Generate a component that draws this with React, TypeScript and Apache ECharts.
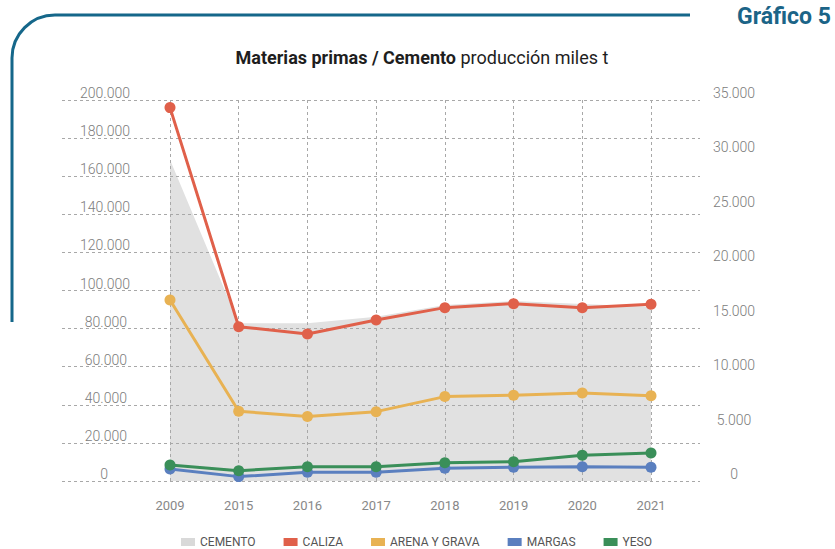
import React, { useEffect, useRef } from "react";
import * as echarts from "echarts";

const years = ["2009", "2015", "2016", "2017", "2018", "2019", "2020", "2021"];
const cemento = [29500, 14500, 14500, 15100, 16170, 16540, 16260, 16000];
const caliza = [196000, 81000, 77200, 84500, 91000, 93100, 91000, 92800];
const arenaYGrava = [95000, 36600, 33800, 36400, 44300, 45000, 46200, 44800];
const margas = [6300, 2300, 4600, 4600, 6700, 7200, 7500, 7200];
const yeso = [8400, 5400, 7500, 7500, 9600, 10100, 13500, 14700];

const leftMax = 200000;
const leftStep = 20000;
const rightMax = 35000;
const rightStep = 5000;

const fmt = (v: number) => String(v).replace(/\B(?=(\d{3})+(?!\d))/g, ".");

const FONT = "Roboto";

export default function App() {
  const ref = useRef<HTMLDivElement>(null);
  useEffect(() => {
    if (!ref.current) return;
    const chart = echarts.init(ref.current, null, { renderer: "svg" });
    const gridTop = 100;
    const gridBottom = 549 - 481;
    const dashed = { type: [3, 3] as any, color: "#a8a8a8", width: 1 };
    const labelColor = "#7c7c7c";
    const lineSeries = (name: string, data: number[], color: string) => ({
      name,
      type: "line",
      xAxisIndex: 1,
      yAxisIndex: 2,
      data,
      z: 5,
      symbol: "circle",
      symbolSize: 11,
      lineStyle: { color, width: 3 },
      itemStyle: { color },
    });
    chart.setOption({
      animation: false,
      textStyle: { fontFamily: FONT },
      title: {
        text: "{b|Materias primas / Cemento} {r|producción miles t}",
        left: 417,
        top: 43,
        textAlign: "center",
        textStyle: {
          rich: {
            b: { fontFamily: FONT, fontWeight: "bold", fontSize: 18, color: "#1e1e1e" },
            r: { fontFamily: FONT, fontWeight: "normal", fontSize: 18, color: "#1e1e1e" },
          },
        },
      },
      graphic: [
        {
          type: "line",
          shape: { x1: 55, y1: 15, x2: 690, y2: 15 },
          style: { stroke: "#15678a", lineWidth: 3 },
        },
        {
          type: "arc",
          shape: { cx: 55, cy: 58, r: 43, startAngle: Math.PI, endAngle: Math.PI * 1.5 },
          style: { stroke: "#15678a", lineWidth: 3, fill: null },
        },
        {
          type: "line",
          shape: { x1: 12, y1: 58, x2: 12, y2: 322 },
          style: { stroke: "#15678a", lineWidth: 3 },
        },
        {
          type: "text",
          right: 4,
          top: 5,
          style: {
            text: "Gráfico 5",
            fontFamily: FONT,
            fontWeight: "bold",
            fontSize: 23,
            fill: "#1b6487",
          },
        },
      ],
      legend: {
        left: 176,
        top: 531,
        icon: "rect",
        itemWidth: 14,
        itemHeight: 8,
        itemGap: 28,
        textStyle: { color: "#555", fontSize: 12, fontFamily: FONT },
        data: ["CEMENTO", "CALIZA", "ARENA Y GRAVA", "MARGAS", "YESO"],
      },
      grid: [
        { left: 62, right: 835 - 700, top: gridTop, bottom: gridBottom },
        { left: 170, right: 835 - 651, top: gridTop, bottom: gridBottom },
      ],
      xAxis: [
        { gridIndex: 0, type: "value", show: false, min: 0, max: 1 },
        {
          gridIndex: 1,
          type: "category",
          data: years,
          boundaryGap: false,
          z: 3,
          axisLine: { show: false },
          axisTick: { show: false },
          axisLabel: { color: "#888", fontSize: 13, margin: 18, fontFamily: FONT },
          splitLine: { show: true, lineStyle: dashed },
        },
      ],
      yAxis: [
        {
          gridIndex: 0,
          type: "value",
          min: 0,
          max: leftMax,
          interval: leftStep,
          offset: -68,
          z: 3,
          axisLine: { show: false },
          axisTick: { show: false },
          axisLabel: {
            color: labelColor,
            fontSize: 14,
            fontWeight: 300,
            margin: 0,
            verticalAlign: "bottom",
            fontFamily: FONT,
            formatter: (v: number) =>
              v === 0 ? "{z|0}" : v < 100000 ? "{s|" + fmt(v) + "}" : fmt(v),
            rich: {
              z: { color: labelColor, fontSize: 14, fontWeight: 300, padding: [0, 22, 0, 0] },
              s: { color: labelColor, fontSize: 14, fontWeight: 300, padding: [0, 3, 0, 0] },
            },
          },
          splitLine: { show: true, lineStyle: dashed },
        },
        {
          gridIndex: 0,
          type: "value",
          position: "right",
          min: 0,
          max: rightMax,
          interval: rightStep,
          axisLine: { show: false },
          axisTick: { show: false },
          axisLabel: {
            color: labelColor,
            fontSize: 14,
            fontWeight: 300,
            margin: 34,
            align: "center",
            verticalAlign: "bottom",
            fontFamily: FONT,
            formatter: (v: number) => fmt(v),
          },
          splitLine: { show: false },
        },
        { gridIndex: 1, type: "value", min: 0, max: leftMax, show: false, splitLine: { show: false } },
        { gridIndex: 1, type: "value", min: 0, max: rightMax, show: false, splitLine: { show: false } },
      ],
      series: [
        {
          name: "CEMENTO",
          type: "line",
          xAxisIndex: 1,
          yAxisIndex: 3,
          data: cemento,
          z: 1,
          symbol: "none",
          lineStyle: { width: 0, color: "#e0e0e0" },
          itemStyle: { color: "#d9d9d9" },
          areaStyle: { color: "#e1e1e1", opacity: 1 },
        },
        lineSeries("CALIZA", caliza, "#e0604a"),
        lineSeries("ARENA Y GRAVA", arenaYGrava, "#e8b253"),
        lineSeries("MARGAS", margas, "#5a7fbf"),
        lineSeries("YESO", yeso, "#3a8f59"),
      ],
    });
    return () => chart.dispose();
  }, []);
  return (
    <div
      ref={ref}
      style={{ position: "fixed", left: 0, top: 0, width: 835, height: 549, background: "#fff" }}
    />
  );
}
